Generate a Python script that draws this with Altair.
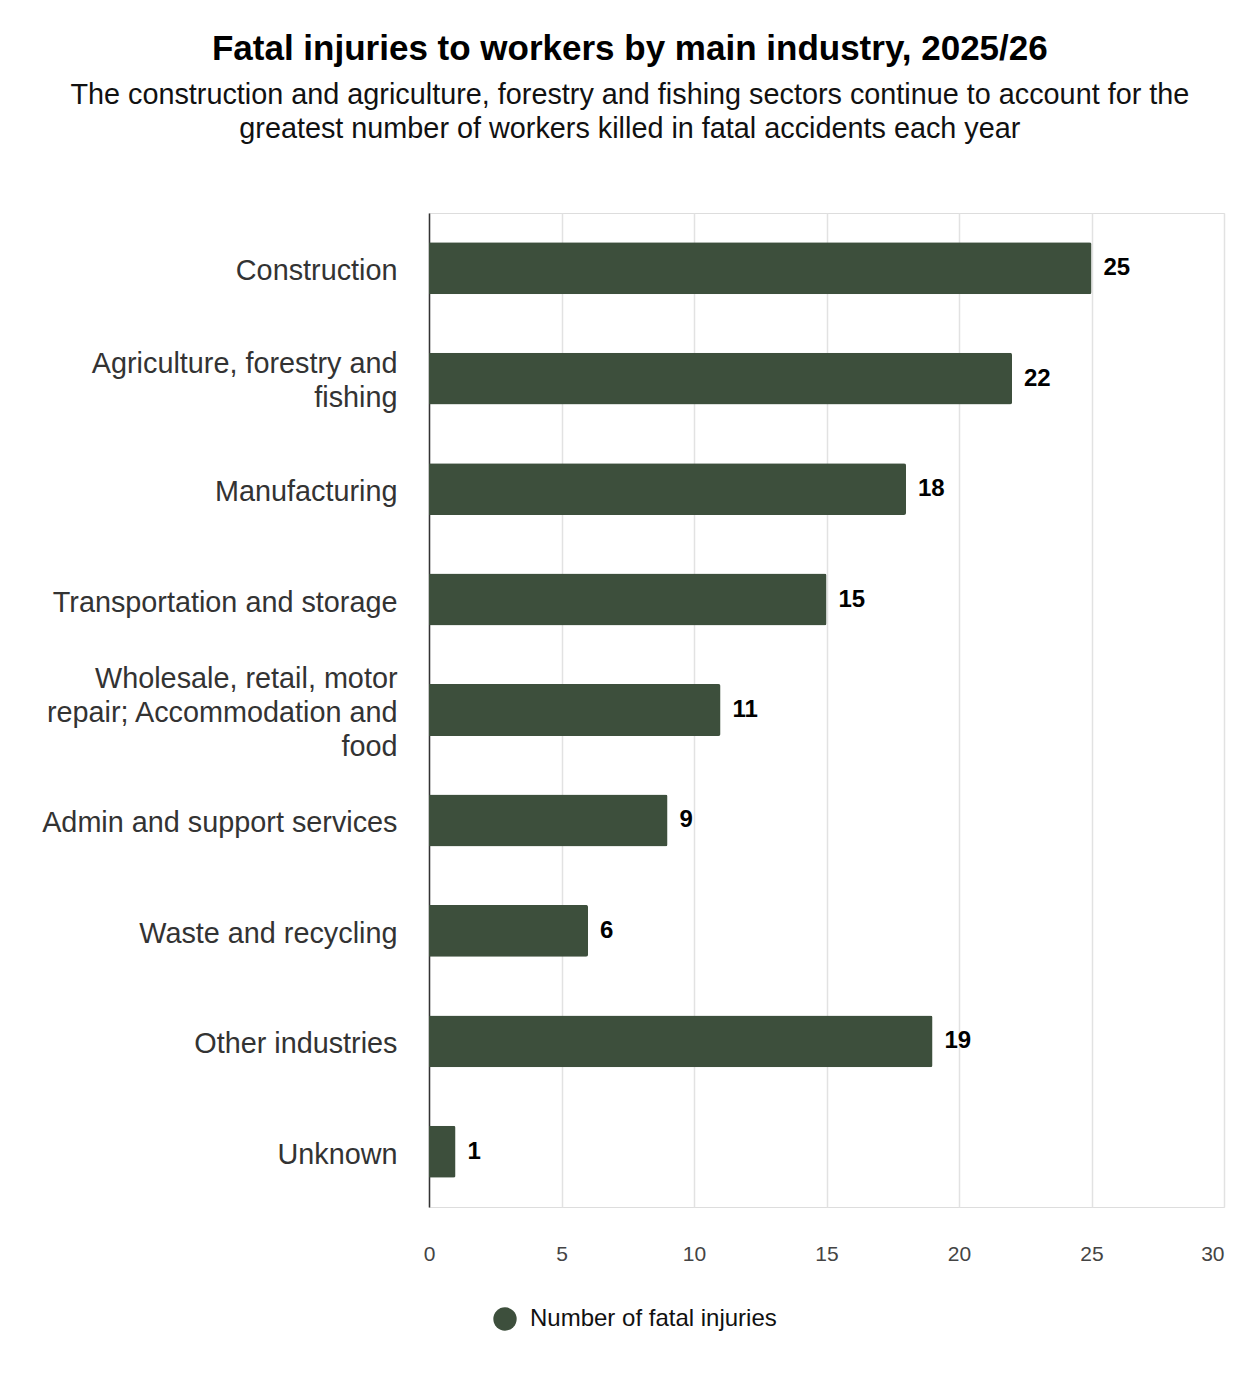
import altair as alt
import pandas as pd

categories = [
    "Construction",
    "Agriculture, forestry and|fishing",
    "Manufacturing",
    "Transportation and storage",
    "Wholesale, retail, motor|repair; Accommodation and|food",
    "Admin and support services",
    "Waste and recycling",
    "Other industries",
    "Unknown",
]
values = [25, 22, 18, 15, 11, 9, 6, 19, 1]
series_name = "Number of fatal injuries"
x_ticks = [0, 5, 10, 15, 20, 25, 30]

df = pd.DataFrame({"industry": categories, "value": values, "series": series_name})

FONT = "Liberation Sans"
BAR = "#3d4f3c"
LH = 34

label_offset = {
    "condition": [
        {"test": "length(split(datum.value, '|')) == 3", "value": -LH + 3},
        {"test": "length(split(datum.value, '|')) == 2", "value": -LH / 2 + 2},
    ],
    "value": 3,
}

x_label_align = {
    "condition": {"test": "datum.value == 30", "value": "right"},
    "value": "center",
}

base = alt.Chart(df).encode(
    y=alt.Y(
        "industry:N",
        sort=categories,
        title=None,
        scale=alt.Scale(paddingInner=0.53, paddingOuter=0.265),
        axis=alt.Axis(
            labelExpr="split(datum.label, '|')",
            labelFontSize=28.8,
            labelColor="#333333",
            labelFont=FONT,
            labelPadding=32,
            labelLineHeight=LH,
            labelOffset=label_offset,
            ticks=False,
            domain=True,
            domainColor="#333333",
            domainWidth=1.5,
            grid=False,
            labelLimit=700,
        ),
    ),
    x=alt.X(
        "value:Q",
        title=None,
        scale=alt.Scale(domain=[0, 30]),
        axis=alt.Axis(
            values=x_ticks,
            labelFontSize=21,
            labelColor="#444444",
            labelFont=FONT,
            labelPadding=36,
            labelFlush=False,
            labelAlign=x_label_align,
            ticks=False,
            domain=False,
            grid=True,
            gridColor="#e2e2e2",
            gridWidth=1.5,
        ),
    ),
)

bars = base.mark_bar(color=BAR, cornerRadiusTopRight=2, cornerRadiusBottomRight=2).encode(
    color=alt.Color(
        "series:N",
        scale=alt.Scale(range=[BAR]),
        legend=alt.Legend(
            title=None,
            orient="none",
            legendX=64,
            legendY=1094,
            symbolType="circle",
            symbolSize=545,
            symbolStrokeWidth=0,
            labelFontSize=24,
            labelFont=FONT,
            labelColor="#111111",
            labelOffset=13,
            labelLimit=600,
        ),
    )
)

labels = base.mark_text(
    align="left", baseline="middle", dx=12, fontSize=24, fontWeight="bold", font=FONT, color="#000000"
).encode(text="value:Q")

chart = (
    (bars + labels)
    .properties(
        width=795,
        height=994,
        padding={"left": 33, "top": 24, "right": 20, "bottom": 20},
        title=alt.TitleParams(
            text="Fatal injuries to workers by main industry, 2025/26",
            subtitle=[
                "The construction and agriculture, forestry and fishing sectors continue to account for the",
                "greatest number of workers killed in fatal accidents each year",
            ],
            fontSize=35,
            font=FONT,
            fontWeight="bold",
            color="#000000",
            subtitleFontSize=28.8,
            subtitleFont=FONT,
            subtitleColor="#111111",
            subtitlePadding=14,
            subtitleLineHeight=34,
            anchor="middle",
            frame="bounds",
            offset=69,
            dx=-3,
        ),
    )
    .configure_view(strokeWidth=0, stroke="transparent")
    .configure(background="white")
)

chart.save("out.html", embed_options={"renderer": "svg", "actions": False})
